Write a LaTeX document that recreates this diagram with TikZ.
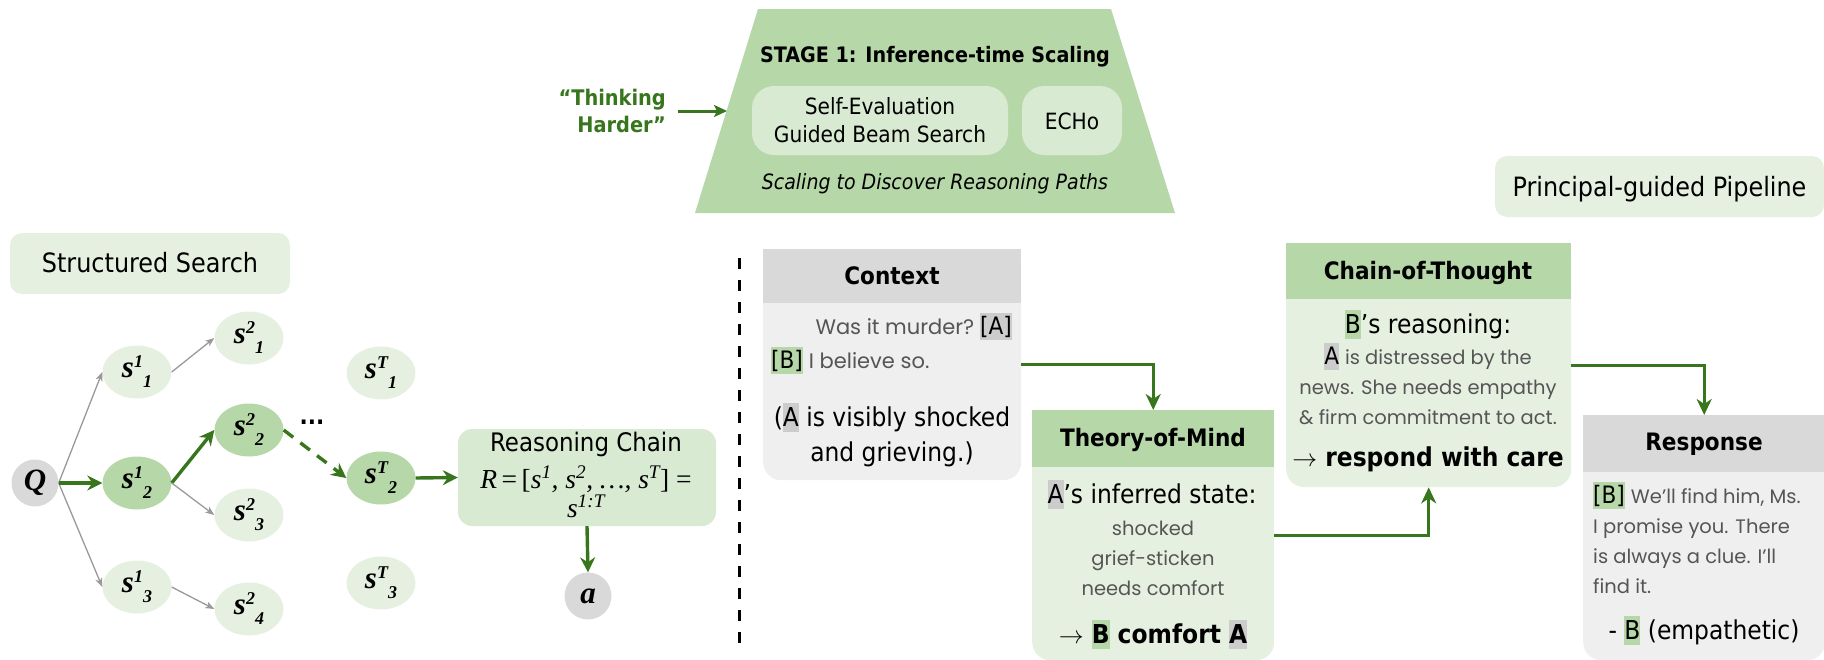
\documentclass[tikz,border=0pt]{standalone}
\usepackage{fontspec}
\setmainfont{DejaVu Sans Condensed}
\newfontfamily\serif{Liberation Serif}
\newfontfamily\hand{Poppins}
\usetikzlibrary{arrows.meta,shapes.geometric}

\definecolor{arrowgreen}{HTML}{38761D}
\definecolor{midgreen}{HTML}{B6D7A8}
\definecolor{softgreen}{HTML}{D9EAD3}
\definecolor{palegreen}{HTML}{E6F0E0}
\definecolor{headgray}{HTML}{D9D9D9}
\definecolor{bodygray}{HTML}{EFEFEF}
\definecolor{hlgray}{HTML}{CCCCCC}
\definecolor{linegray}{HTML}{999999}
\definecolor{handgray}{HTML}{555555}

\setlength{\fboxsep}{0pt}
% tight highlight behind a speaker letter
\newcommand\hl[2]{\colorbox{#1}{\rule[-0.24em]{0pt}{1.12em}#2}}
% search-state label: s with staggered super- and subscript
\newcommand\stag[2]{{\serif\bfseries\itshape\fontsize{31}{31}\selectfont s\raisebox{10pt}{\fontsize{18}{18}\selectfont #1}\raisebox{-10pt}{\fontsize{18}{18}\selectfont #2}}}
\newcommand\fbody{\fontsize{26}{30}\selectfont}
\newcommand\fhead{\fontsize{24}{28}\selectfont\bfseries}
\newcommand\fhand{\hand\fontsize{19.5}{30}\selectfont\color{handgray}}
\newcommand\thinarr{$\rightarrow$}

\tikzset{
  snode/.style={ellipse, minimum width=69pt, minimum height=53pt, inner sep=0pt, fill=palegreen},
  sdark/.style={snode, fill=midgreen},
  endnode/.style={circle, minimum size=47pt, inner sep=0pt, fill=headgray},
  thinarrow/.style={draw=linegray, line width=1.3pt, -{Stealth[length=9pt,width=7pt,inset=2.5pt]}},
  greenarrow/.style={draw=arrowgreen, line width=3.4pt, -{Stealth[length=15pt,width=15pt,inset=5pt]}},
  flowarrow/.style={draw=arrowgreen, line width=3pt, -{Stealth[length=16pt,width=15pt,inset=5pt]}},
  label box/.style={rounded corners=12pt, fill=palegreen, inner sep=0pt},
  cardbody/.style={rounded corners=18pt, inner sep=0pt, anchor=north west},
  cardhead/.style={inner sep=0pt, anchor=north west},
  txt/.style={inner sep=0pt, anchor=base},
  txtl/.style={inner sep=0pt, anchor=base west},
  txtr/.style={inner sep=0pt, anchor=base east},
}

\begin{document}
\begin{tikzpicture}[x=1pt,y=-1pt]
\useasboundingbox (0,0) rectangle (1824,659);

% ---------------- Stage 1 banner ----------------
\fill[midgreen] (758,9) -- (1111,9) -- (1175,213) -- (695,213) -- cycle;
\coordinate (stageleft) at (727,111);
\node[txt, font=\fontsize{21.3}{24}\selectfont\bfseries] (stagetitle) at (935,62) {STAGE 1: Inference-time Scaling};
\node[rounded corners=22pt, fill=softgreen, minimum width=256pt, minimum height=69pt, inner sep=0pt] (sebs) at (880,120.5) {};
\node[txt, font=\fontsize{22.4}{28}\selectfont] (sebs1) at (880,114) {Self-Evaluation};
\node[txt, font=\fontsize{22.4}{28}\selectfont] (sebs2) at (880,142) {Guided Beam Search};
\node[rounded corners=22pt, fill=softgreen, minimum width=100pt, minimum height=69pt, inner sep=0pt] (echo) at (1072,120.5) {};
\node[txt, font=\fontsize{22.4}{28}\selectfont] (echot) at (1072,129) {ECHo};
\node[txt, font=\fontsize{21.1}{24}\selectfont\itshape] (stagesub) at (935,189) {Scaling to Discover Reasoning Paths};

\node[txtr, font=\fontsize{21.5}{27}\selectfont\bfseries, text=arrowgreen] (think1) at (666,105) {“Thinking};
\node[txtr, font=\fontsize{21.5}{27}\selectfont\bfseries, text=arrowgreen] (think2) at (666,132) {Harder”};
\draw[draw=arrowgreen, line width=3pt, -{Stealth[length=13pt,width=12pt,inset=3pt]}] (think1.east |- stageleft) ++(12,0) coordinate (thinkout) -- (stageleft);

% ---------------- section labels ----------------
\node[label box, minimum width=280pt, minimum height=61pt] (sslabel) at (150,263.5) {};
\node[txt, font=\fontsize{26.6}{30}\selectfont] (sstext) at (150,272) {Structured Search};
\node[label box, minimum width=329pt, minimum height=61pt] (pplabel) at (1659.5,186.5) {};
\node[txt, font=\fontsize{26.6}{30}\selectfont] (pptext) at (1659.5,196) {Principal-guided Pipeline};

% ---------------- structured search tree ----------------
\node[endnode] (q) at (35,483) {\serif\bfseries\itshape\fontsize{31}{31}\selectfont Q};
\node[snode] (s11) at (137,372) {\stag{1}{1}};
\node[sdark] (s12) at (137,483) {\stag{1}{2}};
\node[snode] (s13) at (137,587) {\stag{1}{3}};
\node[snode] (s21) at (249,338) {\stag{2}{1}};
\node[sdark] (s22) at (249,430) {\stag{2}{2}};
\node[snode] (s23) at (249,515) {\stag{2}{3}};
\node[snode] (s24) at (249,609) {\stag{2}{4}};
\node[snode] (sT1) at (381,373) {\stag{T}{1}};
\node[sdark] (sT2) at (381,478) {\stag{T}{2}};
\node[snode] (sT3) at (381,583) {\stag{T}{3}};
\node[txt, font=\fontsize{24}{24}\selectfont\bfseries] (dots) at (312,424) {...};

\draw[thinarrow] (q.east) -- (s11.west);
\draw[thinarrow] (q.east) -- (s13.west);
\draw[greenarrow] (q.east) -- (s12.west);
\draw[thinarrow] (s11.east) -- (s21.west);
\draw[greenarrow] (s12.east) -- (s22.west);
\draw[thinarrow] (s12.east) -- (s23.west);
\draw[thinarrow] (s13.east) -- (s24.west);
\draw[greenarrow, dash pattern=on 12pt off 9pt] (s22.east) -- (sT2.west);

% reasoning chain summary
\node[rounded corners=14pt, fill=softgreen, minimum width=258pt, minimum height=97pt, inner sep=0pt] (rc) at (587,477.5) {};
\node[txt, font=\fontsize{25.5}{28}\selectfont] (rctitle) at (586,451) {Reasoning Chain};
\node[txt, font=\serif\itshape\fontsize{27.5}{28}\selectfont] (rcform) at (586,488) {R\,\upshape=\,[\itshape s\textsuperscript{1}, s\textsuperscript{2}, \dots, s\textsuperscript{T}\upshape] =};
\node[txt, font=\serif\itshape\fontsize{27.5}{28}\selectfont] (rcsup) at (586,517) {s\textsuperscript{1:T}};
\node[endnode] (ans) at (588,596) {\serif\bfseries\itshape\fontsize{31}{31}\selectfont a};
\draw[greenarrow] (sT2.east) -- (rc.west);
\draw[greenarrow] (rc.south) -- (ans.north);

% separator
\draw[line width=3pt, dash pattern=on 11pt off 11pt] (739,258) coordinate (septop) -- (739,646) coordinate (sepbot);

% ---------------- Context card ----------------
\node[cardbody, fill=bodygray, minimum width=258pt, minimum height=231pt] (ctx) at (763,249) {};
\node[cardhead, fill=headgray, minimum width=258pt, minimum height=54pt] (ctxh) at (763,249) {};
\node[txt, font=\fhead] (ctxt) at (892,284) {Context};
\node[txtr, font=\fontsize{24}{28}\selectfont] (ctx1) at (1012,334) {{\fhand\fontsize{21}{30}\selectfont Was it murder?}\hspace{6pt}\hl{hlgray}{[A]}};
\node[txtl, font=\fontsize{24}{28}\selectfont] (ctx2) at (771,368) {\hl{midgreen}{[B]}\hspace{6pt}{\fhand\fontsize{21}{30}\selectfont I believe so.}};
\node[txt, font=\fbody] (ctx3) at (892,426) {(\hl{hlgray}{A} is visibly shocked};
\node[txt, font=\fbody] (ctx4) at (892,461) {and grieving.)};

% ---------------- Theory-of-Mind card ----------------
\node[cardbody, fill=palegreen, minimum width=242pt, minimum height=250pt] (tom) at (1032,410) {};
\node[cardhead, fill=midgreen, minimum width=242pt, minimum height=57pt] (tomh) at (1032,410) {};
\node[txt, font=\fhead] (tomt) at (1153,446) {Theory-of-Mind};
\node[txt, font=\fbody] (tom1) at (1152,503) {\hl{hlgray}{A}’s inferred state:};
\node[txt, font=\fhand] (tom2) at (1153,535) {shocked};
\node[txt, font=\fhand] (tom3) at (1153,565) {grief-sticken};
\node[txt, font=\fhand] (tom4) at (1153,595) {needs comfort};
\node[txt, font=\fbody\bfseries] (tom5) at (1153,643) {\thinarr\ \hl{midgreen}{B} comfort \hl{hlgray}{A}};

% ---------------- Chain-of-Thought card ----------------
\node[cardbody, fill=palegreen, minimum width=285pt, minimum height=244pt] (cot) at (1286,243) {};
\node[cardhead, fill=midgreen, minimum width=285pt, minimum height=56pt] (coth) at (1286,243) {};
\node[txt, font=\fhead] (cott) at (1428,279) {Chain-of-Thought};
\node[txt, font=\fbody] (cot1) at (1428,333) {\hl{midgreen}{B}’s reasoning:};
\node[txt, font=\fontsize{24}{28}\selectfont] (cot2) at (1428,364) {\hl{hlgray}{A}\hspace{6pt}{\fhand is distressed by the}};
\node[txt, font=\fhand] (cot3) at (1428,394) {news. She needs empathy};
\node[txt, font=\fhand] (cot4) at (1428,424) {\& firm commitment to act.};
\node[txt, font=\fbody\bfseries] (cot5) at (1428,466) {\thinarr\ respond with care};

% ---------------- Response card ----------------
\node[cardbody, fill=bodygray, minimum width=242pt, minimum height=245pt] (resp) at (1583,415) {};
\node[cardhead, fill=headgray, minimum width=242pt, minimum height=57pt] (resph) at (1583,415) {};
\node[txt, font=\fhead] (respt) at (1704,450) {Response};
\node[txtl, font=\fontsize{24}{28}\selectfont] (resp1) at (1593,503) {\hl{midgreen}{[B]}\hspace{6pt}{\fhand We’ll find him, Ms.}};
\node[txtl, font=\fhand] (resp2) at (1593,533) {I promise you. There};
\node[txtl, font=\fhand] (resp3) at (1593,563) {is always a clue. I’ll};
\node[txtl, font=\fhand] (resp4) at (1593,593) {find it.};
\node[txt, font=\fbody] (resp5) at (1704,639) {- \hl{midgreen}{B} (empathetic)};

% ---------------- pipeline connectors ----------------
\draw[flowarrow] (ctx.east) -| (tomh.north);
\draw[flowarrow] (tom.east) -| (cot.south);
\draw[flowarrow] (cot.east) -| (resph.north);
\end{tikzpicture}
\end{document}
